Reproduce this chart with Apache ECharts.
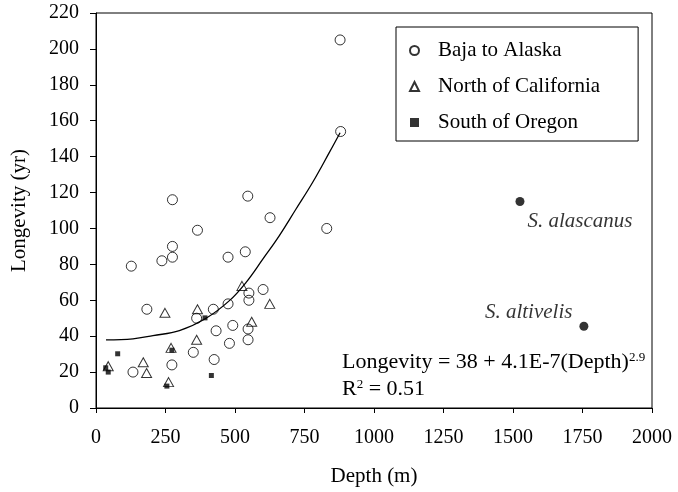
<!DOCTYPE html>
<html>
<head>
<meta charset="utf-8">
<script src="https://cdn.jsdelivr.net/npm/echarts@6/dist/echarts.min.js"></script>
<style>
  html, body { margin: 0; padding: 0; background: #fff; }
  #chart { width: 678px; height: 492px; }
</style>
</head>
<body>
<div id="chart"></div>
<script>
  const bajaDepth = [275, 546, 626, 365, 275, 237, 275, 127, 475, 537, 601, 550, 550, 183, 475, 422, 362, 492, 432, 547, 547, 480, 350, 425, 273, 133, 830, 878, 880];
  const bajaLong = [116, 118, 106, 99, 90, 82, 84, 79, 84, 87, 66, 64, 60, 55, 58, 55, 50, 46, 43, 44, 38, 36, 31, 27, 24, 20, 100, 205, 154];

  const northDepth = [525, 625, 248, 365, 560, 362, 270, 170, 182, 44, 261];
  const northLong = [68, 58, 53, 55, 48, 38, 33.5, 25.5, 19.5, 23.3, 14.4];

  const southDepth = [78, 392, 273, 35, 44, 415, 255];
  const southLong = [30.2, 50.2, 32.2, 22.4, 20, 18.1, 12.2];

  const speciesNames = ['S. alascanus', 'S. altivelis'];
  const speciesDepth = [1525, 1755];
  const speciesLong = [115, 45.5];

  // fitted curve
  const fitDepth = [36, 133, 205, 300, 396, 480, 540, 600, 659, 719, 779, 839, 878];
  const fitLong = [37.9, 38.5, 40.3, 43.1, 50, 59.8, 70, 82.9, 95.9, 110.7, 125.6, 142.2, 153.3];

  const xTicks = { min: 0, max: 2000, interval: 250 };
  const yTicks = { min: 0, max: 220, interval: 20 };

  const FONT = 'Liberation Serif';
  const zip = (xs, ys) => xs.map((x, i) => [x, ys[i]]);

  const chart = echarts.init(document.getElementById('chart'));
  chart.setOption({
    backgroundColor: '#fff',
    animation: false,
    textStyle: { fontFamily: FONT, color: '#000' },
    grid: { left: 96, right: 26, top: 13, bottom: 83, show: true, borderColor: '#000', borderWidth: 1 },
    legend: {
      orient: 'vertical', left: 396, top: 27,
      padding: [13, 38, 8, 13], itemGap: 15,
      itemWidth: 9, itemHeight: 9,
      borderColor: '#000', borderWidth: 1,
      textStyle: { fontFamily: FONT, fontSize: 21, color: '#000', padding: [0, 0, 0, 14] },
      data: ['Baja to Alaska', 'North of California', 'South of Oregon']
    },
    xAxis: {
      type: 'value', min: xTicks.min, max: xTicks.max, interval: xTicks.interval,
      name: 'Depth (m)', nameLocation: 'middle', nameGap: 58,
      nameTextStyle: { fontFamily: FONT, fontSize: 21, color: '#000' },
      axisLine: { lineStyle: { color: '#000' } },
      axisTick: { length: 5, lineStyle: { color: '#000' } },
      axisLabel: { fontFamily: FONT, fontSize: 20, color: '#000', margin: 20, formatter: v => String(v) },
      splitLine: { show: false }
    },
    yAxis: {
      type: 'value', min: yTicks.min, max: yTicks.max, interval: yTicks.interval,
      name: 'Longevity (yr)', nameLocation: 'middle', nameGap: 66,
      nameTextStyle: { fontFamily: FONT, fontSize: 21, color: '#000' },
      axisLine: { show: true, lineStyle: { color: '#000' } },
      axisTick: { show: true, length: 6, lineStyle: { color: '#000' } },
      axisLabel: { fontFamily: FONT, fontSize: 20, color: '#000', margin: 17, formatter: v => String(v) },
      splitLine: { show: false }
    },
    series: [
      {
        name: 'fit', type: 'line', data: zip(fitDepth, fitLong),
        smooth: 0.4, showSymbol: false,
        lineStyle: { color: '#000', width: 1.3 }, z: 1
      },
      {
        name: 'Baja to Alaska', type: 'scatter', data: zip(bajaDepth, bajaLong),
        symbol: 'circle', symbolSize: 10,
        itemStyle: { color: 'rgba(255,255,255,0)', borderColor: '#000', borderWidth: 1 }, z: 2
      },
      {
        name: 'North of California', type: 'scatter', data: zip(northDepth, northLong),
        symbol: 'triangle', symbolSize: [10, 9],
        itemStyle: { color: 'rgba(255,255,255,0)', borderColor: '#000', borderWidth: 1 }, z: 3
      },
      {
        name: 'South of Oregon', type: 'scatter', data: zip(southDepth, southLong),
        symbol: 'rect', symbolSize: 5,
        itemStyle: { color: '#000' }, z: 4
      },
      {
        name: 'species', type: 'scatter',
        data: speciesDepth.map((d, i) => ({
          value: [d, speciesLong[i]], name: speciesNames[i],
          label: i === 0
            ? { position: 'right', offset: [-2, 20], align: 'left' }
            : { position: 'left', offset: [-2, -14], align: 'right' }
        })),
        symbol: 'circle', symbolSize: 9, itemStyle: { color: '#000' },
        label: {
          show: true, formatter: p => p.name,
          fontFamily: FONT, fontSize: 21, fontStyle: 'italic', color: '#000'
        }, z: 5
      }
    ],
    graphic: [{
      type: 'text', left: 342, top: 351,
      style: {
        text: '{a|Longevity = 38 + 4.1E-7(Depth)}{s|2.9}\n{a|R}{s|2}{a| = 0.51}',
        fill: '#000',
        rich: {
          a: { fontFamily: FONT, fontSize: 22, lineHeight: 27, fill: '#000' },
          s: { fontFamily: FONT, fontSize: 13, lineHeight: 13, padding: [0, 0, 10, 0], fill: '#000' }
        }
      }
    }]
  });
</script>
</body>
</html>
